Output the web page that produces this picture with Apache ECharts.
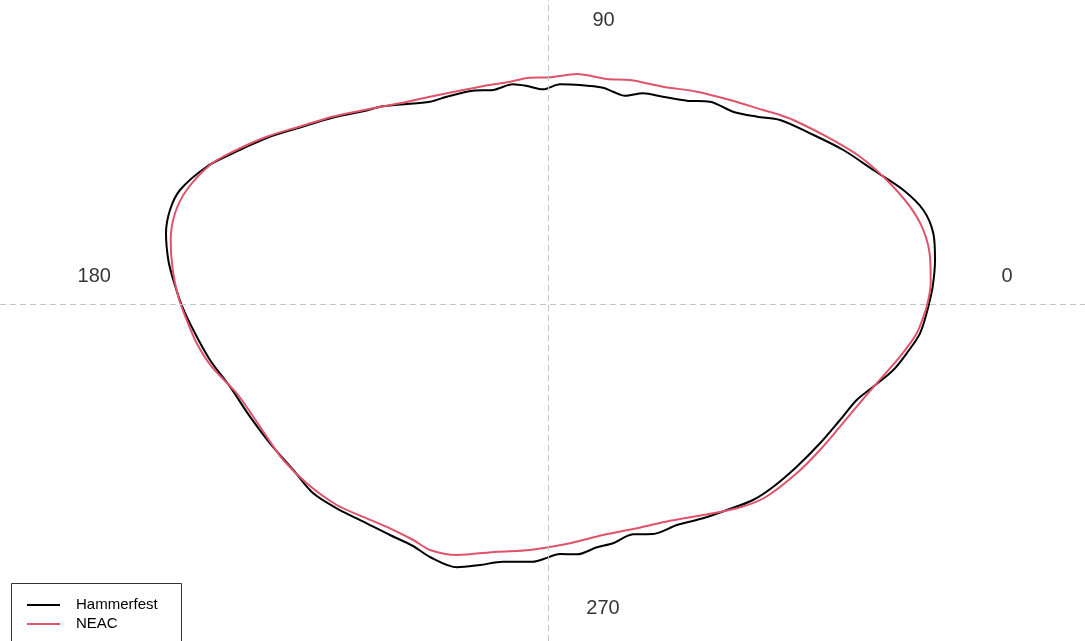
<!DOCTYPE html>
<html>
<head>
<meta charset="utf-8">
<script src="https://cdn.jsdelivr.net/npm/echarts@6/dist/echarts.min.js"></script>
<style>html,body{margin:0;padding:0;background:#fff}#c{width:1085px;height:641px}</style>
</head>
<body>
<div id="c"></div>
<script>
// Outline of Hammerfest (x, y relative to centre)
const hammerfestX = [379.8,384.2,386.5,384.8,374.8,354.8,324.8,294.8,261.5,231.5,208.5,184.5,161.5,138.5,114.5,94.5,76.5,64.5,54.5,31.5,11.5,-5.5,-21.5,-35.5,-55.5,-75.5,-101.8,-118.5,-148.5,-168.5,-181.8,-215.2,-248.5,-281.8,-315.2,-341.8,-368.5,-378.5,-382.5,-380.2,-375.2,-366.8,-355.2,-338.5,-318.5,-298.5,-278.5,-255.2,-235.2,-211.8,-181.8,-158.5,-135.5,-118.5,-91.5,-68.5,-45.5,-15.5,-5.5,11.5,28.5,48.5,64.5,84.5,104.5,128.5,154.5,178.5,204.5,224.8,248.2,271.5,291.5,308.2,324.8,344.8,358.2,371.5,379.8];
const hammerfestY = [-2.7,17.3,44,70.7,94,114,134,154,170.7,184,187.3,192.3,202.3,203.3,207.3,210.7,208.3,212.3,216.3,219,219.7,214.7,218,219.7,214,213.3,207.3,202.3,199.5,197.3,193.5,186.5,176.5,166,151,137.3,114,94,70.7,44,24,-1,-26,-56,-82.7,-112.7,-139.3,-166,-189.3,-204.3,-219.3,-231,-242,-253,-263.3,-261,-257.7,-257.7,-255.3,-250,-250.3,-243.3,-239.3,-230.3,-230,-221,-214.3,-206,-196,-182.7,-162.7,-139.3,-116,-96,-82.7,-66,-49.3,-29.3,-2.7];
// Outline of NEAC
const neacX = [378.2,382.2,381.5,374.8,361.5,338.2,311.5,278.2,244.8,231.5,214.5,181.5,148.5,114.5,81.5,58.5,28.5,1.5,-18.5,-41.5,-68.5,-118.5,-148.5,-181.8,-215.2,-248.5,-281.8,-315.2,-338.5,-361.8,-373.5,-377.8,-375.8,-370.2,-361.8,-351.8,-336.8,-311.8,-295.2,-281.8,-265.2,-241.8,-211.8,-181.8,-158.5,-135.2,-118.5,-91.5,-51.5,-18.5,21.5,54.5,88.5,121.5,154.5,188.5,216.5,248.2,271.5,291.5,308.2,328.2,351.5,368.2,378.2];
const neacY = [-2.7,20.7,47.3,74,97.3,124,147.3,167.3,184,189,194,204,212.3,217.3,224,225,230,226.7,226.3,221.7,217.3,207.3,200.7,194.5,187.5,177.5,167.3,152.5,139,114,90.7,64,34,7.3,-16,-39.3,-62.7,-89.3,-112.7,-132.7,-156,-179.3,-201,-214.3,-224.3,-236,-246,-251,-247.7,-246,-239.3,-231,-224.3,-216.7,-211,-204.3,-193.5,-169.3,-146,-122.7,-102.7,-79.3,-52.7,-29.3,-2.7];
// Angle labels
const angleLabels = ['0','90','180','270'];
const angleLabelX = [458.5,55,-454.2,54.5];
const angleLabelY = [27.3,284,27.3,-304];
const seriesNames = ['Hammerfest','NEAC'];

const zip = (xs, ys) => xs.map((x, i) => [x, ys[i]]);

const chart = echarts.init(document.getElementById('c'), null, {renderer: 'canvas'});
chart.setOption({
  animation: false,
  backgroundColor: '#ffffff',
  grid: {left: 0, right: 0, top: 0, bottom: 0, containLabel: false},
  xAxis: {type: 'value', min: -548.5, max: 536.5, show: false},
  yAxis: {type: 'value', min: -337, max: 304, show: false},
  legend: {
    data: seriesNames,
    orient: 'vertical',
    left: 27, top: 596,
    padding: 0,
    icon: 'rect',
    itemWidth: 33, itemHeight: 2, itemGap: 1,
    textStyle: {fontFamily: 'Liberation Sans, Arial, sans-serif', fontSize: 15, lineHeight: 18, color: '#000', padding: [0,0,0,11]}
  },
  graphic: [{
    type: 'rect',
    shape: {x: 11.5, y: 583.5, width: 170, height: 80},
    style: {fill: 'none', stroke: '#333', lineWidth: 1},
    silent: true
  }],
  series: [
    {
      name: 'guides', type: 'line', data: [], silent: true, z: 1,
      markLine: {
        silent: true, symbol: ['none','none'], animation: false,
        label: {show: false},
        lineStyle: {type: [6,4], color: '#c4c4c4', width: 1},
        data: [{xAxis: 0}, {yAxis: 0}]
      }
    },
    {
      name: seriesNames[0], type: 'line', data: zip(hammerfestX, hammerfestY),
      showSymbol: false, symbol: 'none', smooth: 0.3, z: 3,
      lineStyle: {color: '#000000', width: 2}, itemStyle: {color: '#000000'}
    },
    {
      name: seriesNames[1], type: 'line', data: zip(neacX, neacY),
      showSymbol: false, symbol: 'none', smooth: 0.3, z: 4,
      lineStyle: {color: '#DF536B', width: 2}, itemStyle: {color: '#DF536B'}
    },
    {
      name: 'labels', type: 'scatter', symbolSize: 0, silent: true, z: 5,
      data: angleLabels.map((t, i) => ({value: [angleLabelX[i], angleLabelY[i]], name: t})),
      label: {
        show: true, position: 'inside', formatter: p => p.name,
        fontFamily: 'Liberation Sans, Arial, sans-serif', fontSize: 20, color: '#000'
      }
    }
  ]
});
</script>
</body>
</html>
